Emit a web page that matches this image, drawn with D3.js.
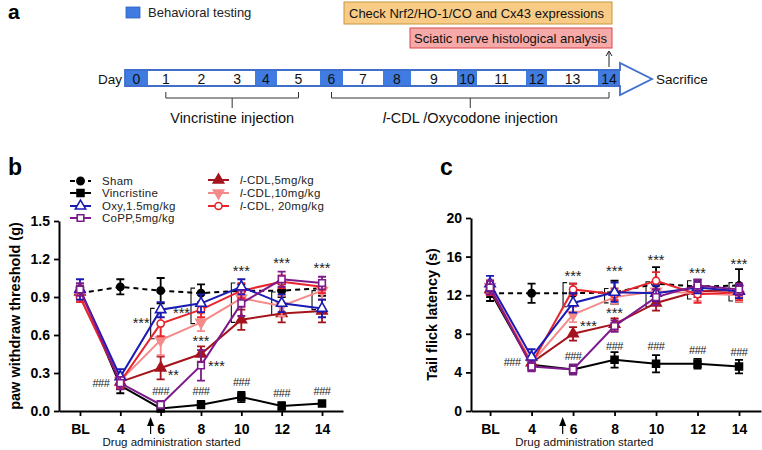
<!DOCTYPE html>
<html><head><meta charset="utf-8">
<script src="https://cdn.jsdelivr.net/npm/d3@7"></script>
<style>
body{margin:0;background:#fff;}
svg{font-family:Arial,"Liberation Sans",sans-serif;}
</style></head><body>
<svg id="fig" width="762" height="450"></svg>
<script>
// ---------------- DATA ----------------
const categories = ["BL","4","6","8","10","12","14"];
const seriesNames = ["Sham","Vincristine","Oxy,1.5mg/kg","CoPP,5mg/kg","-CDL,5mg/kg","-CDL,10mg/kg","-CDL, 20mg/kg"];

// panel b: paw withdraw threshold (g)
const pwtSham  = [0.93,0.98,0.95,0.93,0.95,0.95,0.97];
const pwtVinc  = [0.95,0.20,0.02,0.05,0.11,0.04,0.06];
const pwtOxy   = [0.96,0.27,0.80,0.85,0.98,0.85,0.81];
const pwtCoPP  = [0.96,0.22,0.05,0.36,0.85,1.04,1.01];
const pwtL5    = [0.94,0.23,0.34,0.45,0.72,0.77,0.79];
const pwtL10   = [0.92,0.24,0.56,0.70,0.89,0.83,0.95];
const pwtL20   = [0.90,0.23,0.69,0.80,0.95,1.02,0.98];
const pwtShamE = [0.05,0.06,0.10,0.07,0.05,0.05,0.06];
const pwtVincE = [0.04,0.06,0.02,0.03,0.04,0.03,0.02];
const pwtOxyE  = [0.08,0.06,0.06,0.07,0.06,0.07,0.07];
const pwtCoPPE = [0.05,0.05,0.03,0.12,0.10,0.06,0.05];
const pwtL5E   = [0.05,0.05,0.09,0.06,0.08,0.07,0.09];
const pwtL10E  = [0.05,0.05,0.12,0.07,0.07,0.08,0.07];
const pwtL20E  = [0.04,0.05,0.10,0.06,0.06,0.05,0.05];
const pwtTicks = [0,0.3,0.6,0.9,1.2,1.5];

// panel c: tail flick latency (s)
const tflSham  = [12.2,12.2,12.2,12.3,13.2,12.9,13.0];
const tflVinc  = [12.4,4.8,4.3,5.3,4.9,4.9,4.6];
const tflOxy   = [13.2,5.6,11.2,12.3,12.2,12.8,12.4];
const tflCoPP  = [12.8,4.6,4.3,8.8,11.8,13.0,12.6];
const tflL5    = [12.6,5.0,8.0,9.0,11.2,12.4,12.5];
const tflL10   = [12.9,5.0,10.0,11.8,12.4,12.2,12.0];
const tflL20   = [12.7,4.9,12.6,12.1,13.5,12.1,12.3];
const tflShamE = [0.8,1.0,1.0,1.2,1.7,0.7,1.7];
const tflVincE = [0.6,0.6,0.5,0.8,0.9,0.5,0.7];
const tflOxyE  = [0.8,0.8,1.0,1.0,0.8,0.6,0.7];
const tflCoPPE = [0.7,0.5,0.5,0.6,0.8,0.6,0.6];
const tflL5E   = [0.6,0.6,0.7,0.6,0.8,0.6,0.7];
const tflL10E  = [0.7,0.6,0.8,0.7,0.8,0.8,0.7];
const tflL20E  = [0.7,0.6,0.6,0.6,0.9,0.9,0.8];
const tflTicks = [0,4,8,12,16,20];

// significance marks: [category index, value level, text, side]
const sigB = [[1,0.22,"###","left"],[2,0.16,"###","mid"],[3,0.16,"###","mid"],[4,0.23,"###","mid"],[5,0.14,"###","mid"],[6,0.16,"###","mid"],
  [2,0.70,"***","left"],[2,0.29,"**","right"],[3,0.78,"***","left"],[3,0.56,"***","mid"],[3,0.36,"***","right"],[4,1.11,"***","mid"],[5,1.18,"***","mid"],[6,1.14,"***","mid"]];
const bracketsB = [[2,0.57,0.81],[3,0.69,0.97],[4,0.70,1.01],[5,0.76,0.94],[6,0.80,0.95]];
const sigC = [[1,5.1,"###","left"],[2,5.7,"###","mid"],[3,6.7,"###","mid"],[4,6.7,"###","mid"],[5,6.3,"###","mid"],[6,6.1,"###","mid"],
  [2,14.1,"***","mid"],[2,8.9,"***","right"],[3,14.6,"***","mid"],[3,10.3,"***","mid"],[4,15.7,"***","mid"],[5,14.4,"***","mid"],[6,15.3,"***","mid"]];
const bracketsC = [[2,10.8,13.3],[3,11.2,12.7],[4,10.8,13.4],[5,11.6,13.5],[6,11.4,13.3]];

// timeline
const days = d3.range(15);
const testDays = [0,4,6,8,10,12,14];

// ---------------- STYLE ----------------
const styles = [
  {color:"#000", sym:d3.symbolCircle, fill:true, dash:"5,4", size:42},
  {color:"#000", sym:d3.symbolSquare, fill:true, dash:null, size:48},
  {color:"#1a1ab4", sym:d3.symbolTriangle, fill:false, dash:null, size:46},
  {color:"#7d1a8c", sym:d3.symbolSquare, fill:false, dash:null, size:44},
  {color:"#a5141c", sym:d3.symbolTriangle, fill:true, dash:null, size:46},
  {color:"#f58a8a", sym:d3.symbolTriangle, fill:true, dash:null, size:46, rot:180},
  {color:"#e8242c", sym:d3.symbolCircle, fill:false, dash:null, size:40}
];
const drawOrder = [0,1,4,5,6,2,3];

const svg = d3.select("#fig");

// ---------------- PANEL A ----------------
const A = svg.append("g");
A.append("text").attr("x",8).attr("y",19).attr("font-size",21).attr("font-weight","bold").text("a");
A.append("rect").attr("x",126).attr("y",7).attr("width",14).attr("height",11).attr("fill","#3f7be0").attr("stroke","#2f63c0").attr("stroke-width",0.8);
A.append("text").attr("x",148).attr("y",16.5).attr("font-size",13).attr("fill","#222").text("Behavioral testing");
A.append("rect").attr("x",344).attr("y",2).attr("width",268).attr("height",22).attr("fill","#f8cc86").attr("stroke","#c8963c").attr("stroke-width",1);
A.append("text").attr("x",349).attr("y",18).attr("font-size",13).attr("fill","#111").text("Check Nrf2/HO-1/CO and Cx43 expressions");
A.append("rect").attr("x",410).attr("y",28).attr("width",202).attr("height",20).attr("fill","#f5aaa9").attr("stroke","#d9474a").attr("stroke-width",1);
A.append("text").attr("x",414).attr("y",43).attr("font-size",13).attr("fill","#111").text("Sciatic nerve histological analysis");

const dayX = d3.scaleLinear()
  .domain([0,1,4,5,6,7,8,9,10,11,12,13,14,15])
  .range([125,148,255,277,320,343,383,411,457,477,526,547,598,620]);
const barTop = 70, barBot = 86;
A.selectAll("rect.day").data(days).join("rect").attr("class","day")
  .attr("x",d=>dayX(d)).attr("y",barTop).attr("width",d=>dayX(d+1)-dayX(d)).attr("height",barBot-barTop)
  .attr("fill",d=>testDays.includes(d)?"#3f7be0":"#fff");
const outline = d3.path();
outline.moveTo(dayX(0),barTop); outline.lineTo(dayX(15),barTop); outline.lineTo(dayX(15),63);
outline.lineTo(652,79); outline.lineTo(dayX(15),95); outline.lineTo(dayX(15),barBot);
outline.lineTo(dayX(0),barBot); outline.closePath();
A.append("path").attr("d",outline.toString()).attr("fill","none").attr("stroke","#3e6fcc").attr("stroke-width",1.8).attr("stroke-linejoin","miter");
A.selectAll("text.dn").data(days).join("text").attr("class","dn")
  .attr("x",d=>(dayX(d)+dayX(d+1))/2).attr("y",84).attr("text-anchor","middle").attr("font-size",14).attr("fill","#111").text(d=>d);
A.append("text").attr("x",98).attr("y",84).attr("font-size",13.5).attr("fill","#111").text("Day");
A.append("text").attr("x",656).attr("y",84).attr("font-size",13.5).attr("fill","#111").text("Sacrifice");
const upX = (dayX(14)+dayX(15))/2;
A.append("line").attr("x1",upX).attr("x2",upX).attr("y1",67).attr("y2",52).attr("stroke","#222").attr("stroke-width",1);
A.append("path").attr("d",`M${upX-3},${56}L${upX},${51}L${upX+3},${56}`).attr("fill","none").attr("stroke","#222").attr("stroke-width",1);
function injBracket(d0,d1,label,italicL){
  const x0 = (dayX(d0)+dayX(d0+1))/2, x1=(dayX(d1)+dayX(d1+1))/2, xm=(x0+x1)/2;
  A.append("path").attr("d",`M${x0},92V98H${x1}V92M${xm},98V108`).attr("fill","none").attr("stroke","#333").attr("stroke-width",1);
  const t = A.append("text").attr("x",xm).attr("y",123).attr("text-anchor","middle").attr("font-size",14.5).attr("fill","#111");
  if(italicL){ t.append("tspan").attr("font-style","italic").text("l"); }
  t.append("tspan").text(label);
}
injBracket(1,5,"Vincristine injection",false);
injBracket(6,14,"-CDL /Oxycodone injection",true);

// ---------------- PANELS B & C ----------------
function drawPanel(cfg){
  const g = svg.append("g");
  const x = d3.scaleLinear().domain(cfg.xDomain).range([cfg.left,cfg.right]);
  const y = d3.scaleLinear().domain([cfg.ticks[0],cfg.ticks[cfg.ticks.length-1]]).range([cfg.bottom,cfg.top]);
  const ya = g.append("g").attr("transform",`translate(${cfg.left},0)`)
    .call(d3.axisLeft(y).tickValues(cfg.ticks).tickFormat(cfg.fmt).tickSize(5).tickSizeOuter(0));
  const xa = g.append("g").attr("transform",`translate(0,${cfg.bottom})`)
    .call(d3.axisBottom(x).tickValues(d3.range(categories.length)).tickFormat(i=>categories[i]).tickSize(5).tickSizeOuter(0));
  [ya,xa].forEach(a=>{
    a.select(".domain").attr("stroke","#000").attr("stroke-width",2);
    a.selectAll(".tick line").attr("stroke","#000").attr("stroke-width",1.8);
    a.selectAll("text").attr("font-size",14).attr("font-weight","bold").attr("fill","#000").attr("font-family","Arial, 'Liberation Sans', sans-serif");
  });
  xa.selectAll("text").attr("dy","1.05em");
  ya.selectAll("text").attr("dx","-1px");
  g.append("text").attr("transform",`translate(${cfg.titleX},${(cfg.top+cfg.bottom)/2}) rotate(-90)`)
    .attr("text-anchor","middle").attr("font-size",cfg.titleSize).attr("font-weight","bold").attr("fill","#000").text(cfg.title);
  const ax = x(1.75);
  g.append("line").attr("x1",ax).attr("x2",ax).attr("y1",cfg.bottom+23).attr("y2",cfg.bottom+10).attr("stroke","#000").attr("stroke-width",1.2);
  g.append("path").attr("d",`M${ax-3.5},${cfg.bottom+15}L${ax},${cfg.bottom+6}L${ax+3.5},${cfg.bottom+15}Z`).attr("fill","#000");
  g.append("text").attr("x",x(2.27)).attr("y",cfg.bottom+35).attr("text-anchor","middle").attr("font-size",11.5).attr("fill","#111").text("Drug administration started");
  cfg.brackets.forEach(([i,v0,v1])=>{
    const bx = x(i)-10;
    g.append("path").attr("d",`M${bx+4},${y(v1)}H${bx}V${y(v0)}H${bx+4}`).attr("fill","none").attr("stroke","#111").attr("stroke-width",1.1);
  });
  const line = d3.line().x((d,i)=>x(i)).y(d=>y(d));
  drawOrder.forEach(s=>{
    const st = styles[s], vals = cfg.values[s], errs = cfg.errors[s];
    g.append("path").attr("d",line(vals)).attr("fill","none").attr("stroke",st.color).attr("stroke-width",2)
      .attr("stroke-dasharray",st.dash);
    const eg = g.append("g");
    vals.forEach((v,i)=>{
      const e = errs[i], cx=x(i);
      eg.append("path").attr("d",`M${cx},${y(v-e)}V${y(v+e)}M${cx-4},${y(v+e)}H${cx+4}M${cx-4},${y(v-e)}H${cx+4}`)
        .attr("fill","none").attr("stroke",st.color).attr("stroke-width",1.8);
    });
    g.selectAll(null).data(vals).join("path")
      .attr("transform",(d,i)=>`translate(${x(i)},${y(d)})${st.rot?" rotate(180)":""}`)
      .attr("d",d3.symbol().type(st.sym).size(st.size)())
      .attr("fill",st.fill?st.color:"#fff").attr("stroke",st.color).attr("stroke-width",1.6);
  });
  cfg.sig.forEach(([i,v,t,side])=>{
    const tx = side==="left"? x(i)-11 : side==="right"? x(i)+7 : x(i);
    const isHash = t==="###";
    g.append("text").attr("x",tx).attr("y",y(v)+(isHash?4:6)).attr("text-anchor",side==="left"?"end":side==="right"?"start":"middle")
      .attr("font-size",isHash?11:14.5).attr("fill","#222").attr("letter-spacing",isHash?"-0.5px":"0px").text(t);
  });
  return g;
}

drawPanel({left:59,right:343,top:221,bottom:411,xDomain:[-0.52,6.52],ticks:pwtTicks,fmt:d3.format(".1f"),
  title:"paw withdraw threshold (g)",titleX:20,titleSize:14.5,
  values:[pwtSham,pwtVinc,pwtOxy,pwtCoPP,pwtL5,pwtL10,pwtL20],
  errors:[pwtShamE,pwtVincE,pwtOxyE,pwtCoPPE,pwtL5E,pwtL10E,pwtL20E],
  sig:sigB,brackets:bracketsB});
drawPanel({left:471,right:761,top:218,bottom:411,xDomain:[-0.46,6.53],ticks:tflTicks,fmt:d3.format("d"),
  title:"Tail flick latency (s)",titleX:437,titleSize:14.5,
  values:[tflSham,tflVinc,tflOxy,tflCoPP,tflL5,tflL10,tflL20],
  errors:[tflShamE,tflVincE,tflOxyE,tflCoPPE,tflL5E,tflL10E,tflL20E],
  sig:sigC,brackets:bracketsC});

svg.append("text").attr("x",8).attr("y",175).attr("font-size",23).attr("font-weight","bold").text("b");
svg.append("text").attr("x",440).attr("y",175).attr("font-size",23).attr("font-weight","bold").text("c");

// legend (panel b)
const legPos = [[70,181],[70,193],[70,206],[70,218],[208,180],[208,193],[208,206]];
seriesNames.forEach((name,s)=>{
  const st = styles[s], [lx,ly] = legPos[s];
  const lg = svg.append("g");
  lg.append("line").attr("x1",lx).attr("x2",lx+21).attr("y1",ly).attr("y2",ly).attr("stroke",st.color).attr("stroke-width",2).attr("stroke-dasharray",st.dash);
  lg.append("path").attr("transform",`translate(${lx+10.5},${ly})${st.rot?" rotate(180)":""}`)
    .attr("d",d3.symbol().type(st.sym).size(st.size)()).attr("fill",st.fill?st.color:"#fff").attr("stroke",st.color).attr("stroke-width",1.6);
  const t = lg.append("text").attr("x",lx+32).attr("y",ly+4).attr("font-size",11.5).attr("letter-spacing","0.3px").attr("fill","#222");
  if(s>=4){ t.append("tspan").attr("font-style","italic").text("l"); }
  t.append("tspan").text(name);
});
</script>
</body></html>
